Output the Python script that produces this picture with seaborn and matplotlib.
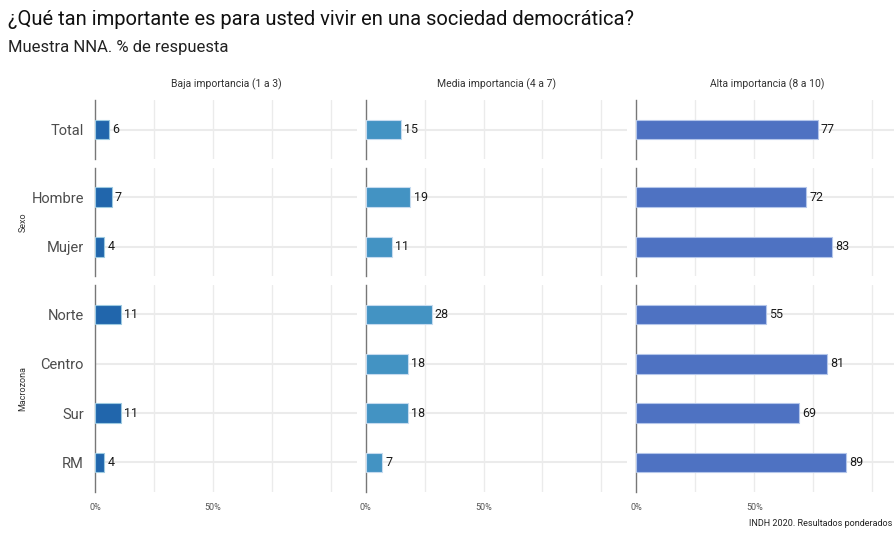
import numpy as np
import pandas as pd
import matplotlib.pyplot as plt
import seaborn as sns

# ---------------- Data ----------------

grupos = ['Total', 'Sexo', 'Macrozona']
categorias = {
    'Total': ['Total'],
    'Sexo': ['Hombre', 'Mujer'],
    'Macrozona': ['Norte', 'Centro', 'Sur', 'RM'],
}
niveles = ['Baja importancia (1 a 3)', 'Media importancia (4 a 7)', 'Alta importancia (8 a 10)']

baja = [6, 7, 4, 11, np.nan, 11, 4]
media = [15, 19, 11, 28, 18, 18, 7]
alta = [77, 72, 83, 55, 81, 69, 89]

colores = ['#2166ac', '#4393c3', '#4e72c2']
bordes = ['#9ecae1', '#c6dbef', '#b4c6ea']

# ---------------- Build table ----------------

cats = [c for g in grupos for c in categorias[g]]
filas = []
for g in grupos:
    for c in categorias[g]:
        i = cats.index(c)
        for nivel, vals in zip(niveles, [baja, media, alta]):
            filas.append({'grupo': g, 'cat': c, 'nivel': nivel, 'valor': vals[i]})
df = pd.DataFrame(filas)

# ---------------- Plot ----------------

sns.set_theme(style='white')
plt.rcParams['font.family'] = ['Roboto', 'DejaVu Sans']

fig, axes = plt.subplots(
    3, 3, figsize=(8.94, 5.33), dpi=100,
    gridspec_kw=dict(height_ratios=[1.2, 2.2, 4.2], left=0.1063, right=1.0045,
                     top=0.8124, bottom=0.0769, wspace=0.0344, hspace=0.068),
)

for r, g in enumerate(grupos):
    orden = categorias[g]
    n = len(orden)
    for c, nivel in enumerate(niveles):
        ax = axes[r, c]
        d = df[(df['grupo'] == g) & (df['nivel'] == nivel)].dropna()
        sns.barplot(data=d, x='valor', y='cat', order=orden, color=colores[c],
                    width=0.4, edgecolor=bordes[c], linewidth=0.8, saturation=1,
                    ax=ax, zorder=3)
        for _, row in d.iterrows():
            ax.text(row['valor'] + 1.3, orden.index(row['cat']), f"{int(row['valor'])}",
                    va='center', ha='left', fontsize=9, color='#1a1a1a', zorder=4)

        ax.set_xlim(0, 111)
        ax.set_ylim(n - 0.4, -0.6)
        for xv in [25, 50, 75, 100]:
            ax.axvline(xv, color='#ebebeb', lw=1, zorder=0)
        for yv in range(n):
            ax.axhline(yv, color='#ebebeb', lw=1.5, zorder=0)

        for s in ['top', 'right', 'bottom']:
            ax.spines[s].set_visible(False)
        ax.spines['left'].set_color('#777777')
        ax.spines['left'].set_linewidth(1)

        ax.set_xlabel('')
        ax.set_ylabel('')
        ax.set_xticks([0, 50])
        if r == 2:
            ax.set_xticklabels(['0%', '50%'], fontsize=6.5, color='#555555')
        else:
            ax.set_xticklabels([])
        ax.tick_params(axis='x', length=0, pad=8)
        ax.tick_params(axis='y', length=0, pad=8)
        if c == 0:
            ax.set_yticks(range(n))
            ax.set_yticklabels(orden, fontsize=10.5, color='#4d4d4d')
        else:
            ax.set_yticks([])
        if r == 0:
            ax.set_title(nivel, fontsize=7.5, color='#333333', pad=9)

# row labels
for r, g in enumerate(grupos):
    if g == 'Total':
        continue
    pos = axes[r, 0].get_position()
    fig.text(0.0255, (pos.y0 + pos.y1) / 2, g, rotation=90, ha='center', va='center',
             fontsize=6.5, color='#333333')

fig.text(0.009, 0.964, '¿Qué tan importante es para usted vivir en una sociedad democrática?',
         fontsize=14.5, color='#111111', va='center', ha='left')
fig.text(0.009, 0.91, 'Muestra NNA. % de respuesta', fontsize=12, color='#222222',
         va='center', ha='left')
fig.text(0.998, 0.017, 'INDH 2020. Resultados ponderados', fontsize=6.5, color='#222222',
         ha='right', va='center')

plt.savefig('out.png', dpi=100)
